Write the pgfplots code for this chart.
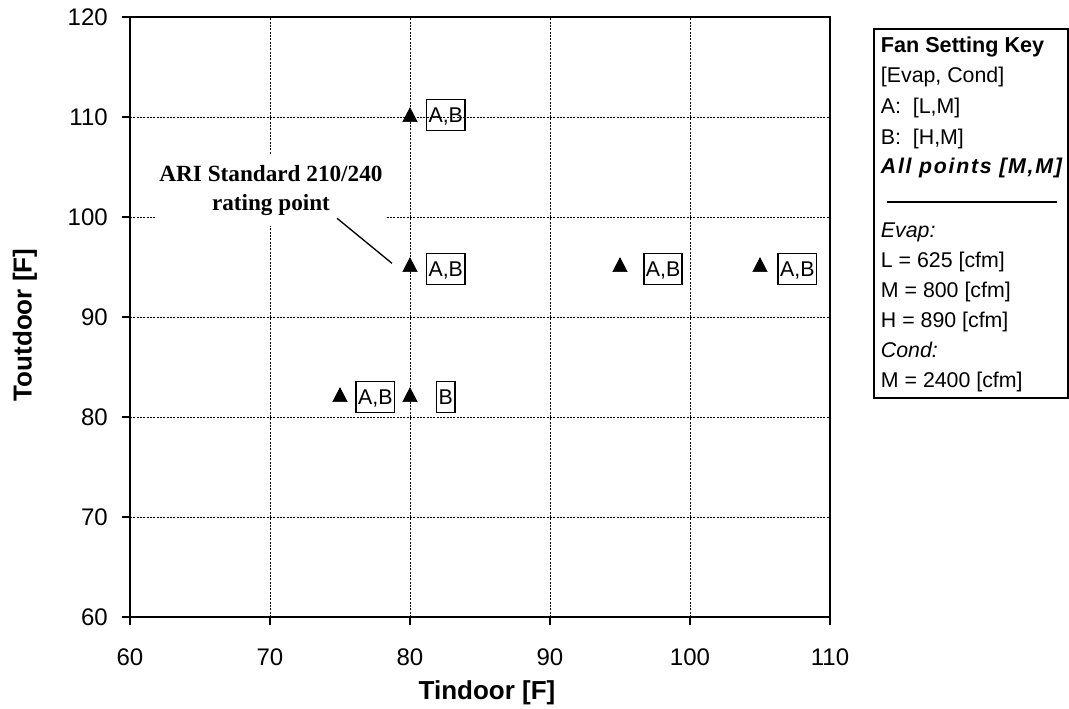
\documentclass[border=0pt]{standalone}
\usepackage{pgfplots}
\pgfplotsset{compat=1.18}
\usepackage{fontspec}
\setmainfont{Liberation Sans}
\newfontfamily\timesfont{Liberation Serif}
\begin{document}
\begin{tikzpicture}
\path[use as bounding box] (-97.5pt,-69pt) rectangle (704.25pt,462.75pt);
\begin{axis}[
  at={(0,0)}, anchor=south west,
  scale only axis, width=525pt, height=450pt,
  xmin=60, xmax=110, ymin=60, ymax=120,
  xtick={60,70,...,110}, ytick={60,70,...,120},
  grid=major,
  major grid style={black, line width=0.5pt, dash pattern=on 1.5pt off 1pt},
  axis line style={line width=1.4pt},
  tick style={black, line width=1.4pt},
  tick align=outside, major tick length=6pt,
  xtick pos=left, ytick pos=left,
  /pgf/number format/assume math mode=true,
  ticklabel style={font=\fontsize{18}{18}\selectfont, inner sep=0pt},
  xticklabel style={anchor=north, yshift=-17.25pt},
  yticklabel style={anchor=east, xshift=-10.5pt},
  xlabel={Tindoor [F]}, ylabel={Toutdoor [F]},
  label style={font=\fontsize{19.5}{19.5}\selectfont\bfseries},
  xlabel style={at={(axis description cs:0.51,-0.138)}, anchor=base},
  ylabel style={at={(axis description cs:-0.1404,0.4867)}, anchor=base, rotate=0},
  clip=false,
]
\addplot[only marks, mark=triangle*, mark size=6.2pt, black, mark options={fill=black, yscale=1.12}] coordinates {
  (75,82) (80,82) (80,95) (95,95) (105,95) (80,110)
};
\tikzset{lbl/.style={draw, line width=1.2pt, anchor=west, inner xsep=1.5pt, inner ysep=5.9pt, text height=11.5pt, text depth=0pt, font=\fontsize{16}{16}\selectfont}}
\node[lbl, xshift=11.8pt, yshift=1.5pt] at (axis cs:80,110) {A,B};
\node[lbl, xshift=11.8pt, yshift=-1.5pt] at (axis cs:80,95) {A,B};
\node[lbl, xshift=17.3pt, yshift=-1.4pt] at (axis cs:95,95) {A,B};
\node[lbl, xshift=13pt, yshift=-1.4pt] at (axis cs:105,95) {A,B};
\node[lbl, xshift=11.5pt] at (axis cs:75,82) {A,B};
\node[lbl, xshift=19.3pt] at (axis cs:80,82) {B};
\node[fill=white, align=center, inner xsep=3.5pt, inner ysep=8pt, font=\timesfont\bfseries\fontsize{17.4}{22}\selectfont] at (axis cs:70.07,102.67) {ARI Standard 210/240\\rating point};
\draw[line width=1pt] (axis cs:74.79,99.87) -- (axis cs:78.71,95.37);
\end{axis}
% key box
\draw[line width=1.4pt] (558pt,164pt) rectangle (703.5pt,441pt);
\tikzset{key/.style={anchor=base west, inner sep=0pt, font=\fontsize{16}{16}\selectfont}}
\node[key, font=\fontsize{16.2}{16}\selectfont\bfseries] at (563pt,423pt) {Fan Setting Key};
\node[key] at (563pt,400.5pt) {[Evap, Cond]};
\node[key] at (563pt,377.25pt) {A:\ \ [L,M]};
\node[key] at (563pt,354pt) {B:\ \ [H,M]};
\node[key, font=\fontsize{16}{16}\selectfont\bfseries\itshape\addfontfeature{LetterSpace=8}] at (563pt,332.25pt) {All points [M,M]};
\draw[line width=1.4pt] (567.75pt,311.25pt) -- (695.25pt,311.25pt);
\node[key, font=\fontsize{16}{16}\selectfont\itshape] at (563pt,284.25pt) {Evap:};
\node[key] at (563pt,261.75pt) {L = 625 [cfm]};
\node[key] at (563pt,239.25pt) {M = 800 [cfm]};
\node[key] at (563pt,216.75pt) {H = 890 [cfm]};
\node[key, font=\fontsize{16}{16}\selectfont\itshape] at (563pt,194.25pt) {Cond:};
\node[key] at (563pt,171.75pt) {M = 2400 [cfm]};
\end{tikzpicture}
\end{document}
